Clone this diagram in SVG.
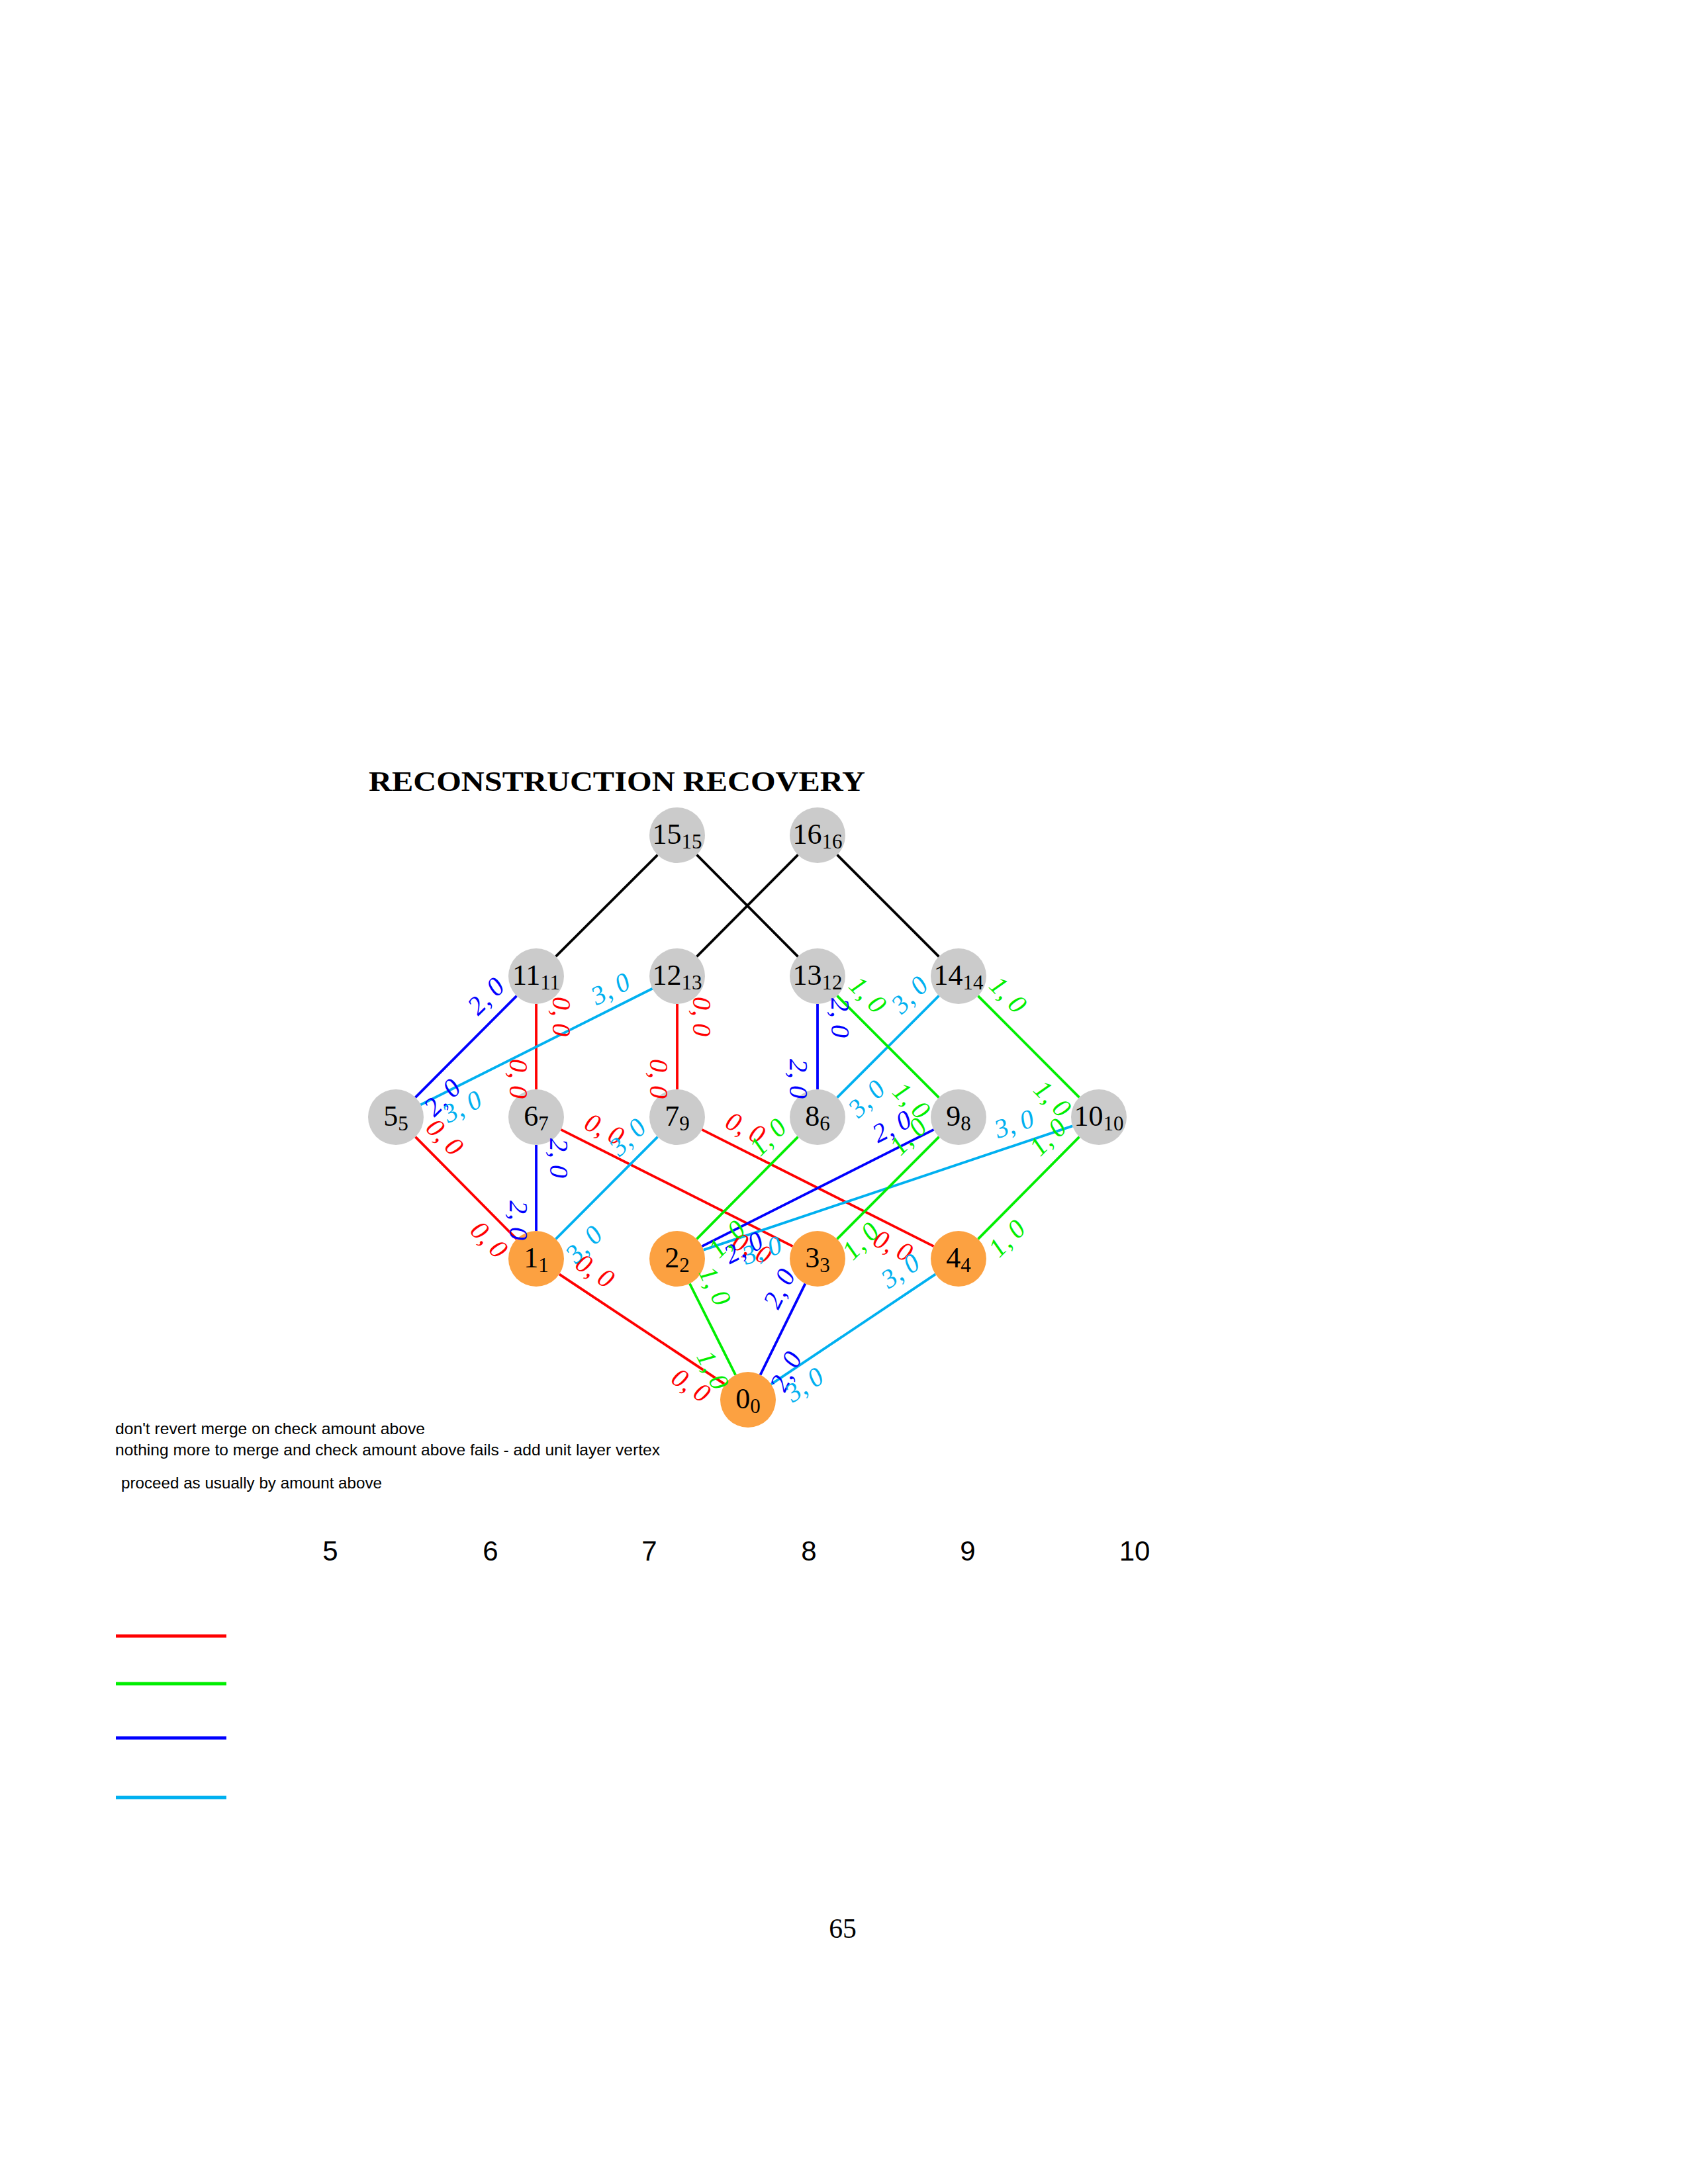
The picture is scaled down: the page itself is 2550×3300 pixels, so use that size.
<svg xmlns="http://www.w3.org/2000/svg" width="2550" height="3300" viewBox="0 0 2550 3300">
<style>
.bg{fill:#ffffff}
.e{stroke-width:3.8;fill:none;stroke-linecap:butt}
.k{stroke:#000000}.r{stroke:#ff0000}.g{stroke:#00ee00}.b{stroke:#0000ff}.c{stroke:#00b0f0}
.gray{fill:#cbcbcb}.org{fill:#fca141}
.nl{font-family:"Liberation Serif","DejaVu Serif",serif;font-size:44px;text-anchor:middle;fill:#000}
.sub{font-size:31px}
.lab{font-family:"Liberation Serif","DejaVu Serif",serif;font-style:italic;font-size:40px;text-anchor:middle;dominant-baseline:central}
.lr{fill:#ff0000}.lg{fill:#00ee00}.lb{fill:#0000ff}.lc{fill:#00b0f0}
.note{font-family:"Liberation Sans Narrow","Liberation Sans",sans-serif;font-size:24px;fill:#000}
.num{font-family:"Liberation Sans Narrow","Liberation Sans",sans-serif;font-size:42px;text-anchor:middle;fill:#000}
.leg{stroke-width:5}
</style>
<rect class="bg" x="0" y="0" width="2550" height="3300"/>
<text x="557" y="1195" font-family="Liberation Serif, DejaVu Serif, serif" font-weight="bold" font-size="41.7" textLength="750" lengthAdjust="spacingAndGlyphs">RECONSTRUCTION RECOVERY</text>

<g id="n15"><circle class="gray" cx="1023" cy="1262" r="42"/><text class="nl" x="1023" y="1275">15<tspan class="sub" dy="7">15</tspan></text></g>
<g id="n16"><circle class="gray" cx="1235" cy="1262" r="42"/><text class="nl" x="1235" y="1275">16<tspan class="sub" dy="7">16</tspan></text></g>
<g id="n11"><circle class="gray" cx="810" cy="1475" r="42"/><text class="nl" x="810" y="1488">11<tspan class="sub" dy="7">11</tspan></text></g>
<g id="n12"><circle class="gray" cx="1023" cy="1475" r="42"/><text class="nl" x="1023" y="1488">12<tspan class="sub" dy="7">13</tspan></text></g>
<g id="n13"><circle class="gray" cx="1235" cy="1475" r="42"/><text class="nl" x="1235" y="1488">13<tspan class="sub" dy="7">12</tspan></text></g>
<g id="n14"><circle class="gray" cx="1448" cy="1475" r="42"/><text class="nl" x="1448" y="1488">14<tspan class="sub" dy="7">14</tspan></text></g>
<g id="n5"><circle class="gray" cx="598" cy="1688" r="42"/><text class="nl" x="598" y="1701">5<tspan class="sub" dy="7">5</tspan></text></g>
<g id="n6"><circle class="gray" cx="810" cy="1688" r="42"/><text class="nl" x="810" y="1701">6<tspan class="sub" dy="7">7</tspan></text></g>
<g id="n7"><circle class="gray" cx="1023" cy="1688" r="42"/><text class="nl" x="1023" y="1701">7<tspan class="sub" dy="7">9</tspan></text></g>
<g id="n8"><circle class="gray" cx="1235" cy="1688" r="42"/><text class="nl" x="1235" y="1701">8<tspan class="sub" dy="7">6</tspan></text></g>
<g id="n9"><circle class="gray" cx="1448" cy="1688" r="42"/><text class="nl" x="1448" y="1701">9<tspan class="sub" dy="7">8</tspan></text></g>
<g id="n10"><circle class="gray" cx="1660" cy="1688" r="42"/><text class="nl" x="1660" y="1701">10<tspan class="sub" dy="7">10</tspan></text></g>
<g id="n1"><circle class="org" cx="810" cy="1902" r="42"/><text class="nl" x="810" y="1915">1<tspan class="sub" dy="7">1</tspan></text></g>
<g id="n2"><circle class="org" cx="1023" cy="1902" r="42"/><text class="nl" x="1023" y="1915">2<tspan class="sub" dy="7">2</tspan></text></g>
<g id="n3"><circle class="org" cx="1235" cy="1902" r="42"/><text class="nl" x="1235" y="1915">3<tspan class="sub" dy="7">3</tspan></text></g>
<g id="n4"><circle class="org" cx="1448" cy="1902" r="42"/><text class="nl" x="1448" y="1915">4<tspan class="sub" dy="7">4</tspan></text></g>
<g id="n0"><circle class="org" cx="1130" cy="2115" r="42"/><text class="nl" x="1130" y="2128">0<tspan class="sub" dy="7">0</tspan></text></g>

<g id="connectors">
<line class="e k" x1="993.3" y1="1291.8" x2="839.7" y2="1445.2"/>
<line class="e k" x1="1052.6" y1="1291.7" x2="1205.4" y2="1445.3"/>
<line class="e k" x1="1205.4" y1="1291.7" x2="1052.6" y2="1445.3"/>
<line class="e k" x1="1264.7" y1="1291.7" x2="1418.3" y2="1445.3"/>

<line class="e r" x1="810" y1="1517" x2="810" y2="1646"/>
<line class="e r" x1="1023" y1="1517" x2="1023" y2="1646"/>
<line class="e r" x1="627.6" y1="1717.8" x2="780.4" y2="1872.2"/>
<line class="e r" x1="847.5" y1="1706.9" x2="1197.5" y2="1883.1"/>
<line class="e r" x1="1060.5" y1="1706.9" x2="1410.5" y2="1883.1"/>
<line class="e r" x1="845" y1="1925.3" x2="1095" y2="2091.7"/>

<line class="e b" x1="780.4" y1="1504.8" x2="627.6" y2="1658.2"/>
<line class="e b" x1="810" y1="1730" x2="810" y2="1860"/>
<line class="e b" x1="1235" y1="1517" x2="1235" y2="1646"/>
<line class="e b" x1="1410.5" y1="1706.9" x2="1060.5" y2="1883.1"/>
<line class="e b" x1="1216.4" y1="1939.7" x2="1148.6" y2="2077.3"/>

<line class="e c" x1="985.5" y1="1493.8" x2="635.5" y2="1669.2"/>
<line class="e c" x1="993.4" y1="1717.8" x2="839.6" y2="1872.2"/>
<line class="e c" x1="1418.3" y1="1504.7" x2="1264.7" y2="1658.3"/>
<line class="e c" x1="1620.2" y1="1701.4" x2="1062.8" y2="1888.6"/>
<line class="e c" x1="1413.1" y1="1925.4" x2="1164.9" y2="2091.6"/>

<line class="e g" x1="1264.7" y1="1504.7" x2="1418.3" y2="1658.3"/>
<line class="e g" x1="1477.6" y1="1504.8" x2="1630.4" y2="1658.2"/>
<line class="e g" x1="1205.4" y1="1717.8" x2="1052.6" y2="1872.2"/>
<line class="e g" x1="1418.4" y1="1717.8" x2="1264.6" y2="1872.2"/>
<line class="e g" x1="1630.4" y1="1717.8" x2="1477.6" y2="1872.2"/>
<line class="e g" x1="1041.9" y1="1939.5" x2="1111.1" y2="2077.5"/>

<g id="edge-labels">
<text class="lab lr" transform="translate(848,1536) rotate(90)">0, 0</text>
<text class="lab lr" transform="translate(783,1630) rotate(90)">0, 0</text>
<text class="lab lr" transform="translate(1060,1536) rotate(90)">0, 0</text>
<text class="lab lr" transform="translate(995,1630) rotate(90)">0, 0</text>
<text class="lab lr" transform="translate(672,1718) rotate(45)">0, 0</text>
<text class="lab lr" transform="translate(739,1873) rotate(45)">0, 0</text>
<text class="lab lr" transform="translate(913,1706) rotate(26.7)">0, 0</text>
<text class="lab lr" transform="translate(1136,1886) rotate(26.7)">0, 0</text>
<text class="lab lr" transform="translate(1126,1704) rotate(26.7)">0, 0</text>
<text class="lab lr" transform="translate(1349,1882) rotate(26.7)">0, 0</text>
<text class="lab lr" transform="translate(899,1920) rotate(33.6)">0, 0</text>
<text class="lab lr" transform="translate(1044,2093) rotate(33.6)">0, 0</text>

<text class="lab lb" transform="translate(734,1505) rotate(-45)">2, 0</text>
<text class="lab lb" transform="translate(668,1658) rotate(-45)">2, 0</text>
<text class="lab lb" transform="translate(844,1750) rotate(90)">2, 0</text>
<text class="lab lb" transform="translate(783,1844) rotate(90)">2, 0</text>
<text class="lab lb" transform="translate(1269,1538) rotate(90)">2, 0</text>
<text class="lab lb" transform="translate(1206,1630) rotate(90)">2, 0</text>
<text class="lab lb" transform="translate(1347,1702) rotate(-26.7)">2, 0</text>
<text class="lab lb" transform="translate(1123,1885) rotate(-26.7)">2, 0</text>
<text class="lab lb" transform="translate(1177,1947) rotate(-63.8)">2, 0</text>
<text class="lab lb" transform="translate(1187,2072) rotate(-63.8)">2, 0</text>

<text class="lab lc" transform="translate(922,1494) rotate(-26.6)">3, 0</text>
<text class="lab lc" transform="translate(698,1672) rotate(-26.6)">3, 0</text>
<text class="lab lc" transform="translate(948,1718) rotate(-45)">3, 0</text>
<text class="lab lc" transform="translate(882,1880) rotate(-45)">3, 0</text>
<text class="lab lc" transform="translate(1374,1503) rotate(-45)">3, 0</text>
<text class="lab lc" transform="translate(1309,1660) rotate(-45)">3, 0</text>
<text class="lab lc" transform="translate(1532,1698) rotate(-18.6)">3, 0</text>
<text class="lab lc" transform="translate(1151,1889) rotate(-18.6)">3, 0</text>
<text class="lab lc" transform="translate(1360,1920) rotate(-33.8)">3, 0</text>
<text class="lab lc" transform="translate(1215,2092) rotate(-33.8)">3, 0</text>

<text class="lab lg" transform="translate(1311,1503) rotate(45)">1, 0</text>
<text class="lab lg" transform="translate(1377,1663) rotate(45)">1, 0</text>
<text class="lab lg" transform="translate(1523,1503) rotate(45)">1, 0</text>
<text class="lab lg" transform="translate(1590,1660) rotate(45)">1, 0</text>
<text class="lab lg" transform="translate(1160,1718) rotate(-45)">1, 0</text>
<text class="lab lg" transform="translate(1098,1872) rotate(-45)">1, 0</text>
<text class="lab lg" transform="translate(1372,1717) rotate(-45)">1, 0</text>
<text class="lab lg" transform="translate(1300,1875) rotate(-45)">1, 0</text>
<text class="lab lg" transform="translate(1583,1718) rotate(-45)">1, 0</text>
<text class="lab lg" transform="translate(1521,1871) rotate(-45)">1, 0</text>
<text class="lab lg" transform="translate(1080,1943) rotate(63.3)">1, 0</text>
<text class="lab lg" transform="translate(1077,2070) rotate(63.3)">1, 0</text>
</g>
</g>

<text class="note" x="174" y="2167" textLength="468" lengthAdjust="spacingAndGlyphs">don't revert merge on check amount above</text>
<text class="note" x="174" y="2199" textLength="823" lengthAdjust="spacingAndGlyphs">nothing more to merge and check amount above fails - add unit layer vertex</text>
<text class="note" x="183" y="2249" textLength="394" lengthAdjust="spacingAndGlyphs">proceed as usually by amount above</text>

<text class="num" x="499" y="2358">5</text>
<text class="num" x="741" y="2358">6</text>
<text class="num" x="981" y="2358">7</text>
<text class="num" x="1222" y="2358">8</text>
<text class="num" x="1462" y="2358">9</text>
<text class="num" x="1714" y="2358">10</text>

<line class="leg r" x1="175" y1="2472" x2="342" y2="2472"/>
<line class="leg g" x1="175" y1="2544" x2="342" y2="2544"/>
<line class="leg b" x1="175" y1="2626" x2="342" y2="2626"/>
<line class="leg c" x1="175" y1="2716" x2="342" y2="2716"/>

<text x="1273" y="2928" font-family="Liberation Serif, DejaVu Serif, serif" font-size="41.7" text-anchor="middle">65</text>
</svg>
